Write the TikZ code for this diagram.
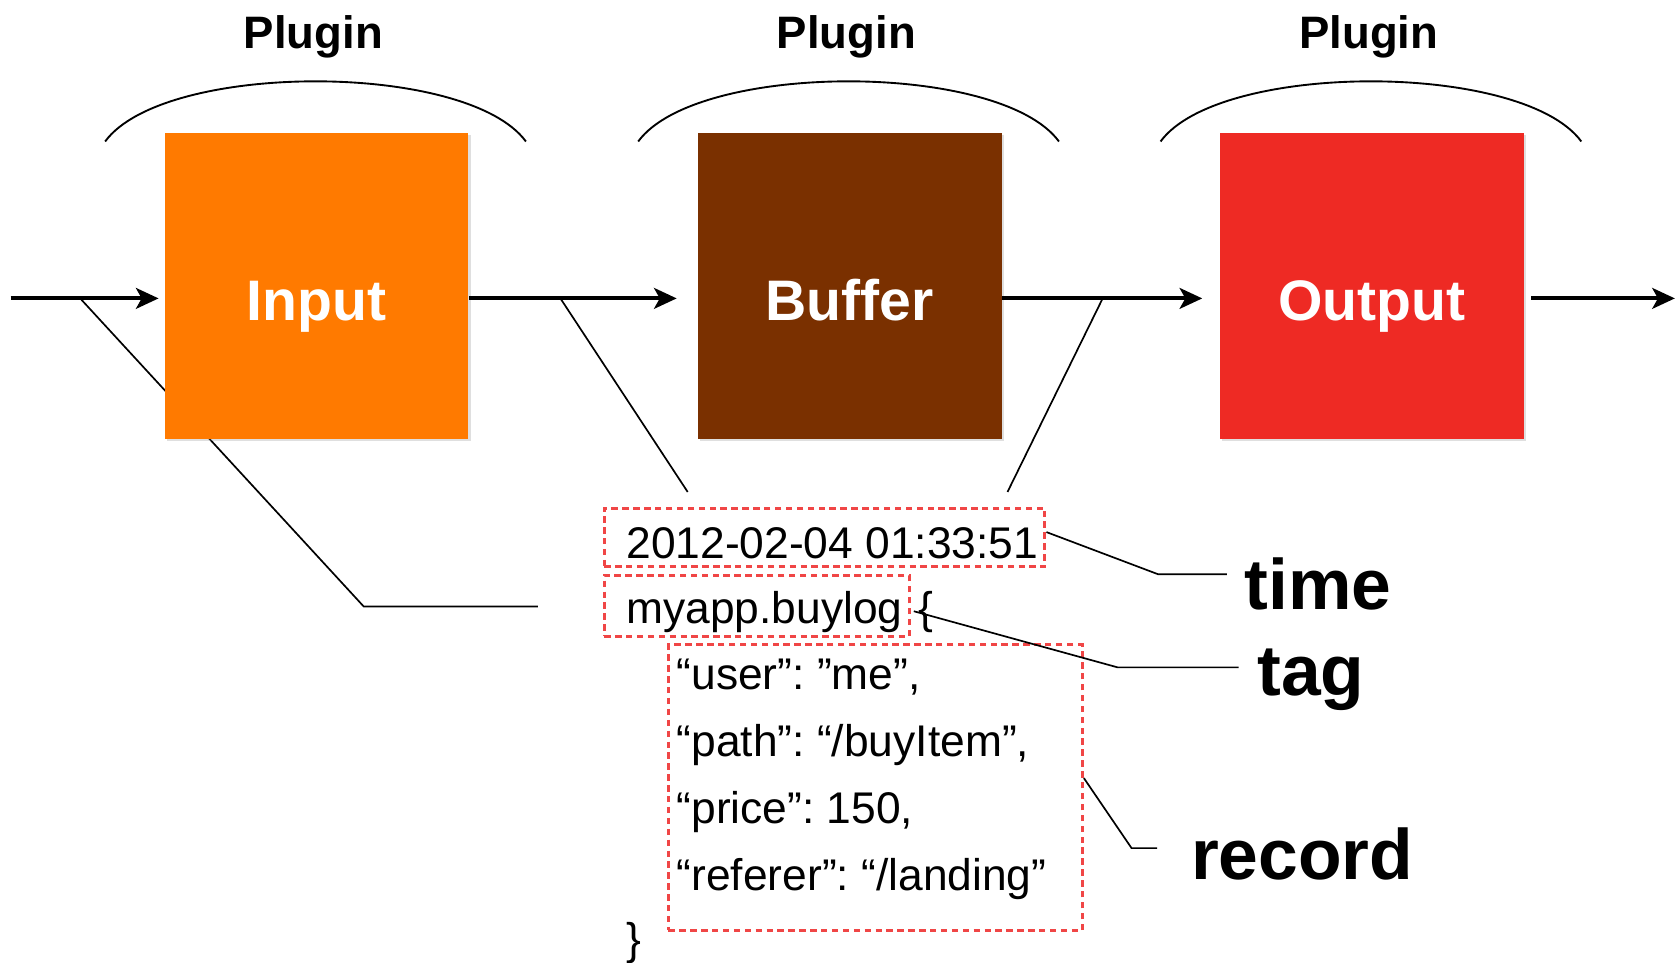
\documentclass[tikz,border=0pt]{standalone}
\usepackage{fontspec}
\setmainfont{Liberation Sans}
\usetikzlibrary{positioning}
\usetikzlibrary{arrows.meta}
\usetikzlibrary{backgrounds}
\usetikzlibrary{shadows}
\definecolor{inputc}{RGB}{255,122,0}
\definecolor{bufferc}{RGB}{122,48,0}
\definecolor{outputc}{RGB}{238,42,36}
\definecolor{dotred}{RGB}{240,70,70}
\frenchspacing

\begin{document}
\begin{tikzpicture}[
  stage/.style={minimum width=2.84cm, minimum height=2.86cm, inner sep=0pt,
    drop shadow={opacity=0.25, shadow xshift=0.6pt, shadow yshift=-0.6pt}},
  stagetext/.style={text=white, font=\fontsize{15.2}{18}\selectfont\bfseries, inner sep=0pt},
  plugin/.style={font=\fontsize{12.1}{14}\selectfont\bfseries, inner sep=0pt},
  code/.style={font=\fontsize{11.8}{14}\selectfont, inner sep=0pt},
  keyword/.style={font=\fontsize{19}{22}\selectfont\bfseries, inner sep=0pt},
  dotbox/.style={draw=dotred, line width=0.8pt, dash pattern=on 1.7pt off 1.2pt, inner sep=0pt},
  flow/.style={line width=1.1pt, -{Stealth[length=6pt, width=5.5pt, inset=1.5pt]}},
  leader/.style={line width=0.45pt},
  arcline/.style={line width=0.5pt}
]

\useasboundingbox (0,0) rectangle (15.68,9.00);

%---------------------------------------
% Plugins
%---------------------------------------
\node[stage, fill=inputc] (input) at (2.96,6.33) {};
\node[stage, fill=bufferc, right=2.13cm of input] (buffer) {};
\node[stage, fill=outputc, right=2.03cm of buffer] (output) {};

\node[stagetext, anchor=base] (inputlbl) at ([yshift=-3.3mm]input.center) {Input};
\node[stagetext, anchor=base] (bufferlbl) at ([yshift=-3.3mm]buffer.center) {Buffer};
\node[stagetext, anchor=base] (outputlbl) at ([yshift=-3.3mm]output.center) {Output};

% arcs and "Plugin" above each box
\foreach \b in {input,buffer,output}{
  \draw[arcline] ([xshift=-5.5mm,yshift=-0.9mm]\b.north west)
        .. controls +(0.55,0.75) and +(-0.55,0.75) .. ([xshift=5.3mm,yshift=-0.9mm]\b.north east);
  \node[plugin] (plug-\b) at ([xshift=-0.3mm,yshift=8.9mm]\b.north) {Plugin};
}

%---------------------------------------
% Event stream
%---------------------------------------
\coordinate (src) at (0.10,6.21);
\coordinate (sink) at (15.66,6.21);

\draw[flow, shorten >=0.5mm] (src) -- (src -| input.west);
\draw[flow, shorten >=1.9mm] (input.east |- src) -- (buffer.west |- src);
\draw[flow, shorten >=1.6mm] (buffer.east |- src) -- (output.west |- src);
\draw[flow, shorten <=0.6mm] (output.east |- src) -- (sink);

% leaders from the stream to the event
\coordinate (tap1) at (0.75,6.21);
\coordinate (tap2) at (5.24,6.21);
\coordinate (tap3) at (10.31,6.21);
\coordinate (knee1) at (3.40,3.33);
\coordinate (end1) at (5.03,3.33);
\coordinate (end2) at (6.43,4.40);
\coordinate (end3) at (9.42,4.40);

\begin{scope}[on background layer]
  \draw[leader] (tap1) -- (knee1) -- (end1);
\end{scope}
\draw[leader] (tap2) -- (end2);
\draw[leader] (tap3) -- (end3);

%---------------------------------------
% Event
%---------------------------------------
\node[dotbox, minimum width=4.12cm, minimum height=0.55cm] (timebox) at (7.71,3.975) {};
\node[code, anchor=base west] (timetxt) at (5.85,3.78) {2012-02-04 01:33:51};

\node[dotbox, minimum width=2.85cm, minimum height=0.57cm] (tagbox) at (7.075,3.335) {};
\node[code, anchor=base west] (tagtxt) at (5.85,3.17) {myapp.buylog};
\node[code, anchor=base west] (lbrace) at (8.58,3.17) {\{};

\node[dotbox, minimum width=3.87cm, minimum height=2.67cm] (recbox) at (8.185,1.635) {};
\foreach \y/\txt [count=\i] in {2.55/{“user”: ”me”,}, 1.93/{“path”: “/buyItem”,},
                               1.30/{“price”: 150,}, 0.67/{“referer”: “/landing”}}
  \node[code, anchor=base west] (field\i) at (6.32,\y) {\txt};
\node[code, anchor=base west] (rbrace) at (5.85,0.08) {\}};

%---------------------------------------
% Names
%---------------------------------------
\node[keyword, anchor=base west] (timename) at (11.63,3.30) {time};
\node[keyword, anchor=base west] (tagname) at (11.75,2.50) {tag};
\node[keyword, anchor=base west] (recname) at (11.13,0.78) {record};

\coordinate (timeknee) at (10.83,3.63);
\coordinate (timeend) at (11.47,3.63);
\coordinate (tagknee) at (10.45,2.76);
\coordinate (tagend) at (11.58,2.76);
\coordinate (recknee) at (10.58,1.07);
\coordinate (recend) at (10.82,1.07);

\draw[leader] ([yshift=0.5mm]timebox.east) -- (timeknee) -- (timeend);
\draw[leader] ([xshift=0.3mm,yshift=-0.5mm]tagbox.east) -- (tagknee) -- (tagend);
\draw[leader] ([yshift=0.9mm]recbox.east) -- (recknee) -- (recend);

\end{tikzpicture}
\end{document}
